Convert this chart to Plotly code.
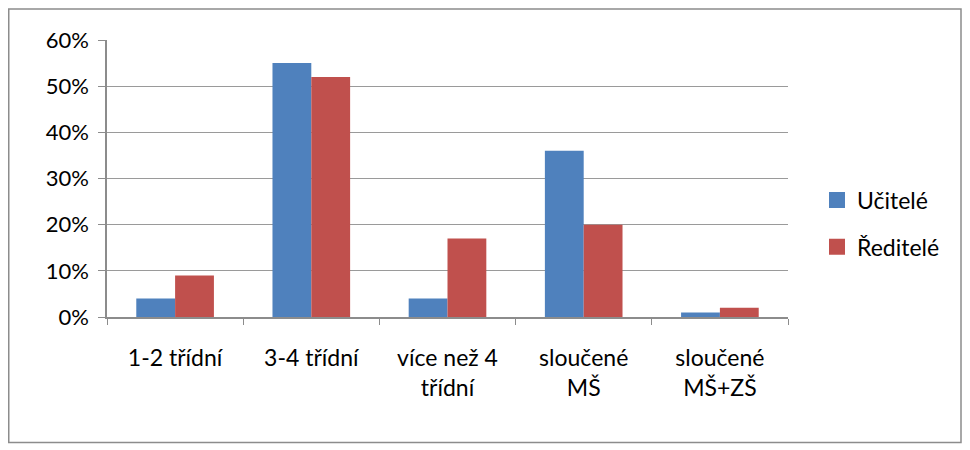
import plotly.graph_objects as go

categories = ["1-2 třídní", "3-4 třídní", "více než 4<br>třídní", "sloučené<br>MŠ", "sloučené<br>MŠ+ZŠ"]
ucitele = [0.04, 0.55, 0.04, 0.36, 0.01]
reditele = [0.09, 0.52, 0.17, 0.20, 0.02]
y_ticks = [0, 0.1, 0.2, 0.3, 0.4, 0.5, 0.6]
series_names = ["Učitelé", "Ředitelé"]
series_colors = ["#4F81BD", "#C0504D"]

FONT = "Lato"
# figure coordinates (page shows the figure offset by 8px body margin)
L, R, T, B = 99, 780, 32, 309
W, H = 955, 440

def px_x(x):
    return (x - L) / (R - L)

def px_y(y):
    return (B - y) / (B - T)

fig = go.Figure()
for name, vals, col in zip(series_names, [ucitele, reditele], series_colors):
    fig.add_trace(go.Bar(name=name, x=categories, y=vals, marker_color=col,
                         marker_line_width=0, showlegend=False, legendgroup=name))
# legend entries with larger square swatches
for name, col in zip(series_names, series_colors):
    fig.add_trace(go.Scatter(name=name, x=[None], y=[None], mode="markers",
                             marker=dict(symbol="square", size=17, color=col),
                             legendgroup=name, showlegend=True))

fig.update_layout(
    width=W, height=H,
    margin=dict(l=L, r=W - R, t=T, b=H - B),
    paper_bgcolor="white", plot_bgcolor="white",
    barmode="group", bargap=0.43, bargroupgap=0,
    font=dict(family=FONT, size=22, color="black"),
    showlegend=True,
    legend=dict(x=px_x(809), y=px_y(215.5), xanchor="left", yanchor="middle",
                font=dict(size=23), tracegroupgap=14, itemwidth=30, itemsizing="trace",
                bgcolor="rgba(0,0,0,0)"),
    shapes=[dict(type="rect", xref="paper", yref="paper",
                 x0=px_x(0.75), x1=px_x(953), y0=px_y(434.5), y1=px_y(1),
                 line=dict(color="#8c8c8c", width=1.5), fillcolor="rgba(0,0,0,0)", layer="below")],
)
fig.update_xaxes(
    type="category", showline=True, linecolor="#8c8c8c", linewidth=1.5,
    ticks="outside", tickson="boundaries", ticklen=6, tickcolor="#8c8c8c",
    showgrid=False, tickfont=dict(size=23), ticklabelstandoff=20,
)
fig.update_yaxes(
    range=[0, 0.6], tickvals=y_ticks, tickformat=".0%",
    showline=True, linecolor="#8c8c8c", linewidth=1.5,
    ticks="outside", ticklen=7, tickcolor="#8c8c8c",
    showgrid=True, gridcolor="#9a9a9a", gridwidth=1,
    tickfont=dict(size=22), zeroline=False, ticklabelstandoff=5,
)
fig.write_html("out.html")
